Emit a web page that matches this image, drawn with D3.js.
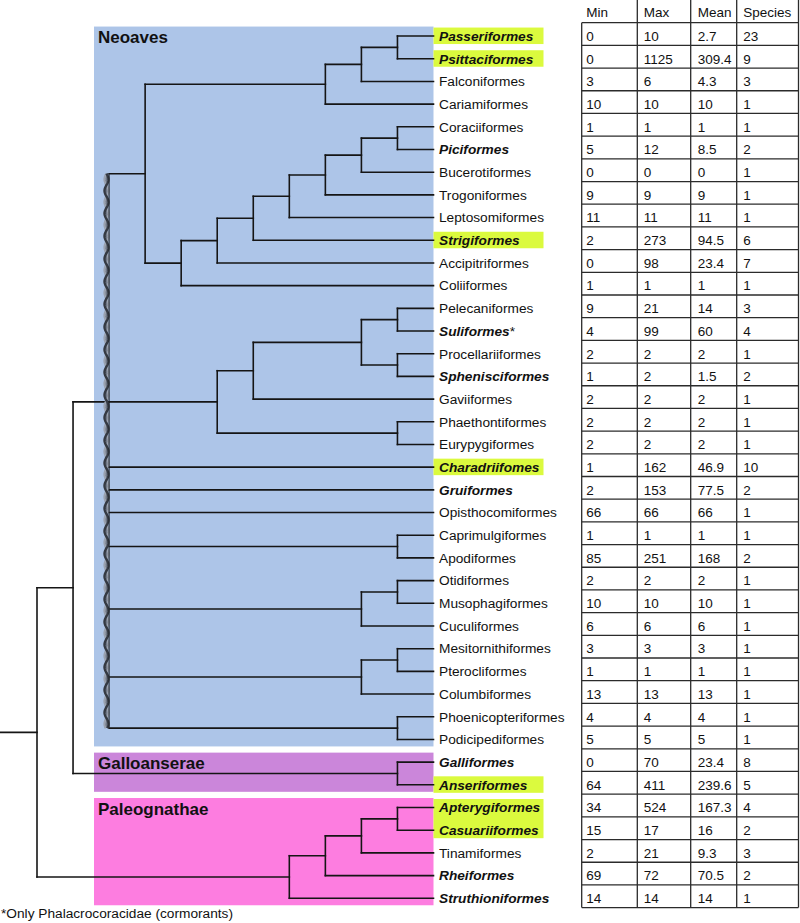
<!DOCTYPE html>
<html><head><meta charset="utf-8">
<script src="https://cdn.jsdelivr.net/npm/d3@7"></script>
<style>
body{margin:0;background:#fff}
svg{display:block}
text{font-family:"Liberation Sans",Arial,Helvetica,sans-serif;fill:#111}
</style>
</head><body>
<svg id="chart" width="800" height="923"></svg>
<script>
// ---------------- DATA ----------------
const orders = ["Passeriformes","Psittaciformes","Falconiformes","Cariamiformes","Coraciiformes","Piciformes","Bucerotiformes","Trogoniformes","Leptosomiformes","Strigiformes","Accipitriformes","Coliiformes","Pelecaniformes","Suliformes","Procellariiformes","Sphenisciformes","Gaviiformes","Phaethontiformes","Eurypygiformes","Charadriifomes","Gruiformes","Opisthocomiformes","Caprimulgiformes","Apodiformes","Otidiformes","Musophagiformes","Cuculiformes","Mesitornithiformes","Pterocliformes","Columbiformes","Phoenicopteriformes","Podicipediformes","Galliformes","Anseriformes","Apterygiformes","Casuariiformes","Tinamiformes","Rheiformes","Struthioniformes"];
const minVals = ["0","0","3","10","1","5","0","9","11","2","0","1","9","4","2","1","2","2","2","1","2","66","1","85","2","10","6","3","1","13","4","5","0","64","34","15","2","69","14"];
const maxVals = ["10","1125","6","10","1","12","0","9","11","273","98","1","21","99","2","2","2","2","2","162","153","66","1","251","2","10","6","3","1","13","4","5","70","411","524","17","21","72","14"];
const meanVals = ["2.7","309.4","4.3","10","1","8.5","0","9","11","94.5","23.4","1","14","60","2","1.5","2","2","2","46.9","77.5","66","1","168","2","10","6","3","1","13","4","5","23.4","239.6","167.3","16","9.3","70.5","14"];
const speciesVals = ["23","9","3","1","1","2","1","1","1","6","7","1","3","4","1","2","1","1","1","10","2","1","1","2","1","1","1","1","1","1","1","1","8","5","4","2","3","2","1"];
const columnHeaders = ["Min","Max","Mean","Species"];
const boldOrders = ["Passeriformes","Psittaciformes","Piciformes","Strigiformes","Suliformes","Sphenisciformes","Charadriifomes","Gruiformes","Galliformes","Anseriformes","Apterygiformes","Casuariiformes","Rheiformes","Struthioniformes"];
const highlightGroups = [["Passeriformes"],["Psittaciformes"],["Strigiformes"],["Charadriifomes"],["Anseriformes"],["Apterygiformes","Casuariiformes"]];
const footnoteMarks = {"Suliformes":"*"};
const footnoteText = "*Only Phalacrocoracidae (cormorants)";
const cladeNames = ["Neoaves","Galloanserae","Paleognathae"];
const cladeFirst = ["Passeriformes","Galliformes","Apterygiformes"];
const cladeLast = ["Podicipediformes","Anseriformes","Struthioniformes"];
// Tree topology; r = node rank (column of the cladogram, 0 = tips)
const tree = {r:11, c:[
  {r:10, c:[
    {r:9, anchor:1, c:[
      {r:8, c:[
        {r:3, c:[{r:2, c:[{r:1, c:["Passeriformes","Psittaciformes"]}, "Falconiformes"]}, "Cariamiformes"]},
        {r:7, c:[{r:6, c:[{r:5, c:[{r:4, c:[{r:3, c:[{r:2, c:[{r:1, c:["Coraciiformes","Piciformes"]}, "Bucerotiformes"]}, "Trogoniformes"]}, "Leptosomiformes"]}, "Strigiformes"]}, "Accipitriformes"]}, "Coliiformes"]}
      ]},
      {r:6, c:[
        {r:5, c:[{r:2, c:[{r:1, c:["Pelecaniformes","Suliformes"]}, {r:1, c:["Procellariiformes","Sphenisciformes"]}]}, "Gaviiformes"]},
        {r:1, c:["Phaethontiformes","Eurypygiformes"]}
      ]},
      "Charadriifomes","Gruiformes","Opisthocomiformes",
      {r:1, c:["Caprimulgiformes","Apodiformes"]},
      {r:2, c:[{r:1, c:["Otidiformes","Musophagiformes"]}, "Cuculiformes"]},
      {r:2, c:[{r:1, c:["Mesitornithiformes","Pterocliformes"]}, "Columbiformes"]},
      {r:1, c:["Phoenicopteriformes","Podicipediformes"]}
    ]},
    {r:1, c:["Galliformes","Anseriformes"]}
  ]},
  {r:4, c:[{r:3, c:[{r:2, c:[{r:1, c:["Apterygiformes","Casuariiformes"]}, "Tinamiformes"]}, "Rheiformes"]}, "Struthioniformes"]}
]};

// ---------------- LAYOUT / STYLE ----------------
const cladeColors = {"Neoaves":"#adc5e8","Galloanserae":"#cb86da","Paleognathae":"#fd7de0"};
const highlightColor = "#dbfa3e";
const lineColor = "#151515";
const tableTop = 22.7, rowH = 22.69;
const colEdges = [581.7, 637.3, 690.7, 736.7, 798.5];
const colPad = [4.5, 6.5, 7, 6.5];

const svg = d3.select("#chart");
const n = orders.length;
const y = d3.scaleLinear().domain([0, n - 1]).range([tableTop + rowH * 0.5 + 2, tableTop + rowH * (n - 0.5) + 2]);
const x = d3.scaleLinear().domain([0, 11]).range([433.5, 37]);
const rowLine = d3.scaleLinear().domain([0, n]).range([tableTop, tableTop + rowH * n]);
const yOf = name => y(orders.indexOf(name));

// clade boxes
const gBox = svg.append("g");
cladeNames.forEach((c, i) => {
  const y0 = yOf(cladeFirst[i]) - 9.5, y1 = yOf(cladeLast[i]) + 7;
  gBox.append("rect").attr("x", 94).attr("y", y0).attr("width", x(0) - 94).attr("height", y1 - y0)
    .attr("fill", cladeColors[c]);
});

// highlights
highlightGroups.forEach(g => {
  const y0 = yOf(g[0]) - 8.5, y1 = yOf(g[g.length - 1]) + 8;
  svg.append("rect").attr("x", x(0)).attr("y", y0).attr("width", 543.5 - x(0)).attr("height", y1 - y0)
    .attr("fill", highlightColor);
});

// tree layout
const root = d3.hierarchy(tree, d => (typeof d === "string" ? null : d.c));
root.eachAfter(nd => {
  if (!nd.children) { nd.x = x(0); nd.y = yOf(nd.data); }
  else {
    nd.x = x(nd.data.r);
    const ch = nd.children;
    nd.y = nd.data.anchor != null ? ch[nd.data.anchor].y : (ch[0].y + ch[ch.length - 1].y) / 2;
  }
});

const gTree = svg.append("g").attr("fill", "none").attr("stroke", lineColor).attr("stroke-width", 1.6).attr("stroke-linecap", "square");
// horizontals
root.descendants().forEach(nd => {
  if (nd.parent) gTree.append("path").attr("d", `M${nd.parent.x},${nd.y}H${nd.x}`);
});
gTree.append("path").attr("d", `M0,${root.y}H${root.x}`);
// verticals
root.descendants().forEach(nd => {
  if (!nd.children) return;
  const ys = nd.children.map(c => c.y);
  const yMin = d3.min(ys), yMax = d3.max(ys);
  if (nd.data.anchor != null) {
    // polytomy drawn as twisted rope
    const rx = nd.x;
    const P = rowH;
    const ts = d3.range(yMin, yMax + 0.5, 0.5);
    const pts1 = ts.map(v => [rx - 2.6 + 2.0 * Math.sin((v - yMin) / P * 2 * Math.PI), v]);
    const pts2 = ts.map(v => [rx - 2.6 - 2.0 * Math.sin((v - yMin) / P * 2 * Math.PI), v]);
    svg.append("path").attr("d", `M${rx - 2.6},${yMin}V${yMax}`).attr("stroke", "#6f7785").attr("stroke-width", 3.2);
    svg.append("path").attr("d", d3.line()(pts2)).attr("fill", "none").attr("stroke", "#9aa2b0").attr("stroke-width", 2.2);
    svg.append("path").attr("d", d3.line()(pts1)).attr("fill", "none").attr("stroke", "#353a43").attr("stroke-width", 2.4);
    svg.append("path").attr("d", `M${rx},${yMin}V${yMax}`).attr("stroke", "#22262c").attr("stroke-width", 1.1);
  } else {
    gTree.append("path").attr("d", `M${nd.x},${yMin}V${yMax}`);
  }
});

// clade names
cladeNames.forEach((c, i) => {
  svg.append("text").attr("x", 98).attr("y", yOf(cladeFirst[i]) + 7)
    .attr("font-size", 17).attr("font-weight", "bold").text(c);
});

// leaf labels
orders.forEach((o, i) => {
  const t = svg.append("text").attr("x", 439).attr("y", y(i) + 4.8).attr("font-size", 13.7);
  const isBold = boldOrders.includes(o);
  t.append("tspan").attr("font-weight", isBold ? "bold" : null).attr("font-style", isBold ? "italic" : null).text(o);
  if (footnoteMarks[o]) t.append("tspan").text(footnoteMarks[o]);
});

// table
const gTab = svg.append("g");
const tableBottom = rowLine(n);
const tl = gTab.append("g").attr("stroke", "#2b2b2b").attr("stroke-width", 1.3);
d3.range(0, n + 1).forEach(k => {
  tl.append("line").attr("x1", colEdges[0]).attr("x2", colEdges[4]).attr("y1", rowLine(k)).attr("y2", rowLine(k));
});
colEdges.forEach((cx, j) => {
  tl.append("line").attr("x1", cx).attr("x2", cx).attr("y1", j === 0 ? tableTop : 0).attr("y2", tableBottom);
});
columnHeaders.forEach((h, j) => {
  gTab.append("text").attr("x", colEdges[j] + colPad[j]).attr("y", 17).attr("font-size", 13.5).attr("fill", "#1a1a1a").text(h);
});
const cols = [minVals, maxVals, meanVals, speciesVals];
cols.forEach((arr, j) => {
  arr.forEach((v, i) => {
    gTab.append("text").attr("x", colEdges[j] + colPad[j]).attr("y", y(i) + 4.8)
      .attr("font-size", 13.5).attr("fill", "#1a1a1a").text(v);
  });
});

// footnote
svg.append("text").attr("x", 1).attr("y", 918).attr("font-size", 13.7).text(footnoteText);
</script>
</body></html>
